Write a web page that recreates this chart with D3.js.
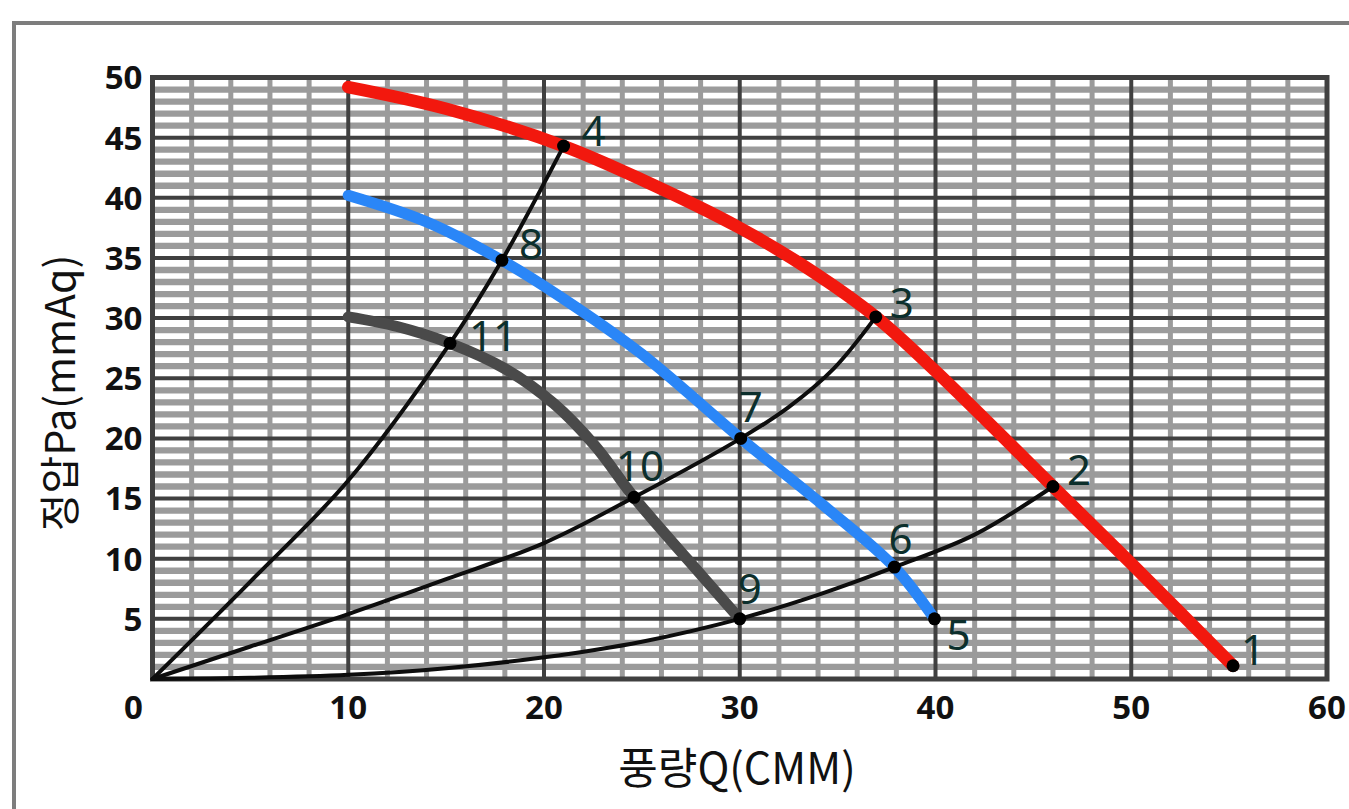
<!DOCTYPE html>
<html><head><meta charset="utf-8">
<script src="https://cdn.jsdelivr.net/npm/d3@7"></script>
<style>html,body{margin:0;padding:0;background:#fff;overflow:hidden}</style>
</head><body>
<svg id="chart" width="1349" height="809"></svg>
<script>
// ---- data ----
const xTicks = [0, 10, 20, 30, 40, 50, 60];
const yTicks = [5, 10, 15, 20, 25, 30, 35, 40, 45, 50];
const xLabel = "풍량Q(CMM)";
const yLabel = "정압Pa(mmAq)";

// pump curves [Q, Pa]
const redCurve = [[10,49.2],[15,47.4],[21,44.3],[25,41.5],[30,37.5],[33.5,34.1],[36.95,30.1],[40,25.6],[46,16.0],[50,9.6],[55.2,1.1]];
const blueCurve = [[10,40.2],[14,38.0],[17.85,34.8],[21,31.6],[25,27.0],[30.05,20.0],[34.3,14.4],[37.9,9.3],[39.95,5.0]];
const grayCurve = [[10,30.1],[12.5,29.3],[15.2,27.9],[18,25.8],[20.5,22.9],[22.6,19.4],[24.6,15.1],[27.3,10.0],[30,5.0]];

// system resistance curves
const sysA = [[0,0],[5,8.1],[10,16.5],[15.2,27.9],[17.85,34.8],[21,44.3]];
const sysB = [[0,0],[5,2.7],[10,5.4],[15,8.3],[20,11.3],[24.6,15.1],[30.05,20.0],[32.5,22.6],[34.8,25.8],[36.95,30.1]];
const sysC = [[0,0],[5,0.1],[10,0.35],[15,0.9],[20,1.8],[25,3.1],[30,5.0],[34,7.0],[37.9,9.3],[42,12.0],[46,16.0]];

// operating points
const pointNames = ["1","2","3","4","5","6","7","8","9","10","11"];
const pointQ  = [55.2, 46.0, 36.95, 21.0, 39.95, 37.9, 30.05, 17.85, 30.0, 24.6, 15.2];
const pointPa = [1.1, 16.0, 30.1, 44.3, 5.0, 9.3, 20.0, 34.8, 5.0, 15.1, 27.9];

// ---- drawing ----
const svg = d3.select("#chart");
const L = 152.5, R = 1327, T = 77.5, B = 679;
const x = d3.scaleLinear().domain([0, 60]).range([L, R]);
const y = d3.scaleLinear().domain([0, 50]).range([B, T]);

// outer frame
svg.append("rect").attr("x", 14).attr("y", 23).attr("width", 1400).attr("height", 900)
  .attr("fill", "#fff").attr("stroke", "#7d7d7d").attr("stroke-width", 4);

const g = svg.append("g");
g.append("rect").attr("x", L).attr("y", T).attr("width", R - L).attr("height", B - T).attr("fill", "#fff");

// minor horizontal lines each 1
g.append("g").selectAll("line").data(d3.range(1, 50).filter(v => v % 5 !== 0)).join("line")
  .attr("x1", L).attr("x2", R).attr("y1", d => y(d)).attr("y2", d => y(d))
  .attr("stroke", "#9b9b9b").attr("stroke-width", 6.3);
// minor vertical lines each 2
g.append("g").selectAll("line").data(d3.range(2, 60, 2).filter(v => v % 10 !== 0)).join("line")
  .attr("y1", T).attr("y2", B).attr("x1", d => x(d)).attr("x2", d => x(d))
  .attr("stroke", "#9b9b9b").attr("stroke-width", 5);
// major horizontal
g.append("g").selectAll("line").data(d3.range(5, 50, 5)).join("line")
  .attr("x1", L).attr("x2", R).attr("y1", d => y(d)).attr("y2", d => y(d))
  .attr("stroke", "#404040").attr("stroke-width", 4);
// major vertical
g.append("g").selectAll("line").data(d3.range(10, 60, 10)).join("line")
  .attr("y1", T).attr("y2", B).attr("x1", d => x(d)).attr("x2", d => x(d))
  .attr("stroke", "#404040").attr("stroke-width", 4);
// border
g.append("rect").attr("x", L).attr("y", T).attr("width", R - L).attr("height", B - T)
  .attr("fill", "none").attr("stroke", "#404040").attr("stroke-width", 5);

// tick labels
const tickFont = "'Noto Sans', 'DejaVu Sans', sans-serif";
svg.append("g").selectAll("text").data(yTicks).join("text")
  .attr("x", L - 10).attr("y", d => y(d)).attr("dy", "0.36em")
  .attr("text-anchor", "end").attr("font-family", tickFont).attr("font-weight", "bold")
  .attr("font-size", 33).attr("fill", "#111").text(d => d);
svg.append("g").selectAll("text").data(xTicks).join("text")
  .attr("x", d => d === 0 ? x(d) - 19 : x(d)).attr("y", 719)
  .attr("text-anchor", "middle").attr("font-family", tickFont).attr("font-weight", "bold")
  .attr("font-size", 33).attr("fill", "#111").text(d => d);

// axis titles
const titleFont = "'Noto Sans CJK KR', 'Noto Sans', sans-serif";
svg.append("text").attr("x", 737).attr("y", 784).attr("text-anchor", "middle")
  .attr("font-family", titleFont).attr("font-size", 43).attr("fill", "#111").text(xLabel);
svg.append("text").attr("transform", "translate(75,393) rotate(-90)").attr("text-anchor", "middle")
  .attr("font-family", titleFont).attr("font-size", 41).attr("fill", "#111").text(yLabel);

// curves
const line = d3.line().x(d => x(d[0])).y(d => y(d[1])).curve(d3.curveCatmullRom.alpha(0.5));
const curves = [
  {d: redCurve, c: "#f2180e", w: 12.5},
  {d: blueCurve, c: "#2a86f7", w: 11},
  {d: grayCurve, c: "#4a4a4a", w: 11}
];
curves.forEach(k => g.append("path").attr("d", line(k.d)).attr("fill", "none")
  .attr("stroke", k.c).attr("stroke-width", k.w).attr("stroke-linecap", "round").attr("stroke-linejoin", "round"));
[sysA, sysB, sysC].forEach(s => g.append("path").attr("d", line(s)).attr("fill", "none")
  .attr("stroke", "#0d0d0d").attr("stroke-width", 4).attr("stroke-linecap", "round"));

// points
const pts = pointNames.map((n, i) => ({n, q: pointQ[i], p: pointPa[i]}));
g.append("g").selectAll("circle").data(pts).join("circle")
  .attr("cx", d => x(d.q)).attr("cy", d => y(d.p)).attr("r", 6.5).attr("fill", "#000");

// label offsets (style only)
const off = {"1":[8,-1,"start"],"2":[14,-2,"start"],"3":[14,1,"start"],"4":[18,0,"start"],
  "5":[12,31,"start"],"6":[6,-13,"middle"],"7":[10,-16,"middle"],"8":[17,-1,"start"],
  "9":[10,-15,"middle"],"10":[6,-16,"middle"],"11":[19,8,"start"]};
g.append("g").selectAll("text").data(pts).join("text")
  .attr("x", d => x(d.q) + off[d.n][0]).attr("y", d => y(d.p) + off[d.n][1])
  .attr("text-anchor", d => off[d.n][2])
  .attr("font-family", "'Noto Sans', sans-serif").attr("font-size", 42)
  .attr("fill", "#0c2f2c").text(d => d.n);
</script>
</body></html>
